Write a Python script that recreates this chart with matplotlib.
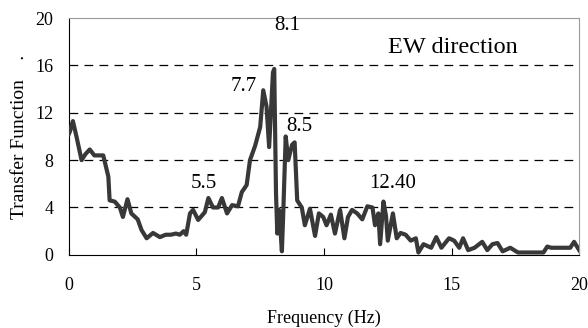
import matplotlib.pyplot as plt

# ---------------- DATA ----------------
freq = [0.0, 0.04, 0.16, 0.3, 0.5, 0.65, 0.82, 1.0, 1.35, 1.55, 1.6, 1.8, 2.0, 2.12,
        2.3, 2.45, 2.7, 2.85, 3.05, 3.3, 3.57, 3.8, 4.0, 4.2, 4.35, 4.5, 4.6,
        4.75, 4.87, 5.07, 5.33, 5.47, 5.65, 5.85, 6.0, 6.2, 6.4, 6.63, 6.78,
        6.97, 7.1, 7.3, 7.5, 7.62, 7.75, 7.85, 8.0, 8.05, 8.12, 8.17, 8.24,
        8.35, 8.4, 8.5, 8.6, 8.75, 8.85, 8.95, 9.13, 9.25, 9.45, 9.65, 9.8,
        9.97, 10.1, 10.27, 10.43, 10.63, 10.8, 10.94, 11.1, 11.3, 11.5, 11.7,
        11.9, 12.0, 12.13, 12.2, 12.33, 12.43, 12.5, 12.7, 12.85, 13.0, 13.2,
        13.4, 13.6, 13.7, 13.9, 14.2, 14.4, 14.6, 14.9, 15.1, 15.3, 15.45,
        15.65, 15.9, 16.2, 16.4, 16.6, 16.8, 17.0, 17.3, 17.6, 17.8, 18.2,
        18.6, 18.75, 18.9, 19.2, 19.65, 19.8, 20.0]
tf = [10.2, 10.4, 11.3, 10.0, 8.0, 8.5, 8.9, 8.4, 8.4, 6.6, 4.6, 4.5, 4.0, 3.2,
      4.7, 3.5, 3.0, 2.1, 1.4, 1.85, 1.5, 1.7, 1.7, 1.8, 1.7, 2.0, 1.7,
      3.5, 3.8, 2.95, 3.6, 4.8, 4.0, 4.0, 4.8, 3.5, 4.2, 4.1, 5.3,
      5.9, 8.0, 9.2, 10.8, 13.9, 12.5, 9.1, 15.4, 15.7, 5.2, 1.8, 3.8,
      0.3, 3.3, 10.0, 8.0, 9.3, 9.5, 4.6, 4.0, 2.5, 3.9, 1.6, 3.5,
      3.2, 2.5, 3.4, 1.8, 3.8, 1.4, 3.2, 3.8, 3.5, 3.0, 4.1,
      4.0, 2.5, 3.5, 0.9, 4.5, 3.3, 1.2, 3.5, 1.4, 1.85, 1.7,
      1.2, 1.4, 0.2, 0.9, 0.6, 1.5, 0.6, 1.4, 1.2, 0.6, 1.4,
      0.4, 0.6, 1.1, 0.4, 0.9, 1.0, 0.3, 0.6, 0.2, 0.2, 0.2,
      0.2, 0.7, 0.6, 0.6, 0.6, 1.1, 0.4]

peak_labels = ["8.1", "7.7", "8.5", "5.5", "12.40"]
peak_x = [8.55, 6.86, 9.02, 5.29, 12.67]
peak_y = [19.4, 14.2, 10.8, 6.0, 6.0]

x_ticks = [0, 5, 10, 15, 20]
y_ticks = [0, 4, 8, 12, 16, 20]

# ---------------- PLOT ----------------
plt.rcParams["font.family"] = ["Liberation Serif", "DejaVu Serif"]

fig = plt.figure(figsize=(5.88, 3.28), dpi=100)
ax = fig.add_axes([0.117, 0.223, 0.868, 0.722])

for g in y_ticks[1:-1]:
    ax.axhline(g, color="black", lw=0.9, ls=(0, (7, 5)), zorder=1)

ax.plot(freq, tf, color="#383838", lw=3.0, solid_joinstyle="round", zorder=3)

for lab, px, py in zip(peak_labels, peak_x, peak_y):
    ax.text(px, py, lab, ha="center", va="center", fontsize=15)
ax.text(15.06, 17.55, "EW direction", ha="center", va="center", fontsize=17.5)

ax.set_xlim(0, 20)
ax.set_ylim(0, 20)
ax.set_xticks(x_ticks)
ax.set_yticks(y_ticks)
ax.tick_params(axis="x", direction="in", length=5, pad=16, labelsize=13)
ax.tick_params(axis="y", length=0, pad=11, labelsize=13)

ax.spines["top"].set_color("#999999")
ax.spines["right"].set_color("#999999")
ax.spines["left"].set_color("black")
ax.spines["bottom"].set_color("black")

ax.set_xlabel("Frequency (Hz)", fontsize=13, labelpad=11)
ax.set_ylabel("Transfer Function    .", fontsize=14, labelpad=5)

fig.savefig("out.png", dpi=100)
